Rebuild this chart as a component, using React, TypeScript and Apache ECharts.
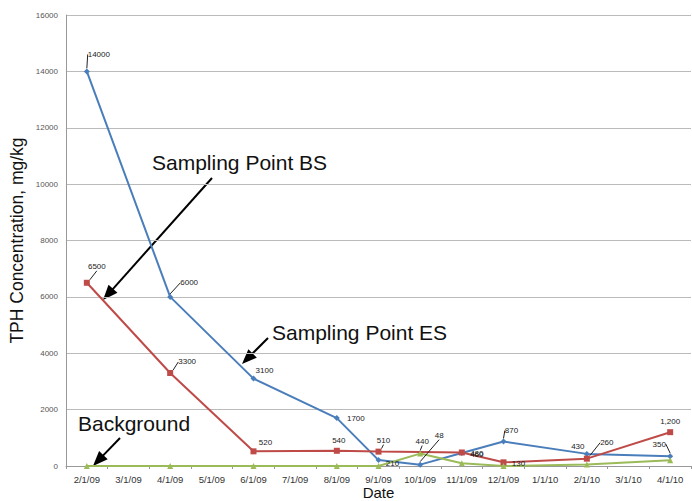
import React, { useEffect, useRef } from "react";
import * as echarts from "echarts";

const categories = ["2/1/09", "3/1/09", "4/1/09", "5/1/09", "6/1/09", "7/1/09", "8/1/09", "9/1/09", "10/1/09", "11/1/09", "12/1/09", "1/1/10", "2/1/10", "3/1/10", "4/1/10"];
const esValues = [14000, null, 6000, null, 3100, null, 1700, 210, 48, 460, 870, null, 430, null, 350];
const bsValues = [6500, null, 3300, null, 520, null, 540, 510, null, 480, 130, null, 260, null, 1200];
const bgValues = [0, null, 0, null, 0, null, 0, 0, 440, 100, 0, null, 50, null, 200];
const esLabels = ["14000", "", "6000", "", "3100", "", "1700", "210", "48", "460", "870", "", "430", "", "350"];
const bsLabels = ["6500", "", "3300", "", "520", "", "540", "510", "", "480", "130", "", "260", "", "1,200"];
const bgLabels = ["", "", "", "", "", "", "", "", "440", "", "", "", "", "", ""];
const yTicks = { min: 0, max: 16000, interval: 2000 };

// label offsets (dx, dy) from the point; third item: draw leader line
const esOffsets: Record<number, [number, number, boolean?]> = { 0: [12, -17, true], 2: [19, -14, true], 4: [11, -8], 6: [19, 0], 7: [14, 3], 8: [19, -29, true], 9: [15, 1], 10: [8, -11, true], 12: [-9, -7], 14: [-11, -12, true] };
const bsOffsets: Record<number, [number, number, boolean?]> = { 0: [10, -16, true], 2: [17, -11, true], 4: [12, -9], 6: [2, -10], 7: [5, -11, true], 9: [15, 1], 10: [15, 1], 12: [20, -16, true], 14: [0, -11] };
const bgOffsets: Record<number, [number, number, boolean?]> = { 8: [2, -12, true] };

function arrow(x1: number, y1: number, x2: number, y2: number) {
  const dx = x2 - x1, dy = y2 - y1;
  const len = Math.sqrt(dx * dx + dy * dy);
  const ux = dx / len, uy = dy / len;
  const nx = -uy, ny = ux;
  const hl = 15, hw = 6;
  const bx = x2 - ux * hl, by = y2 - uy * hl;
  return [
    { type: "line", shape: { x1, y1, x2: bx + ux * 2, y2: by + uy * 2 }, style: { stroke: "#000", lineWidth: 2 } },
    { type: "polygon", shape: { points: [[x2, y2], [bx + nx * hw, by + ny * hw], [bx - nx * hw, by - ny * hw]] }, style: { fill: "#000" } },
  ];
}

export default function App() {
  const ref = useRef<HTMLDivElement>(null);
  useEffect(() => {
    const chart = echarts.init(ref.current!, null, { renderer: "svg" });
    const font = "Liberation Sans, Arial, sans-serif";
    const mkSeries = (name: string, values: any[], labels: string[], offsets: Record<number, [number, number, boolean?]>, color: string, symbol: string, size: number) => ({
      name,
      type: "line",
      data: values.map((v, i) => ({ value: v, labelLine: { show: !!(offsets[i] && offsets[i][2]) } })),
      connectNulls: true,
      symbol,
      symbolSize: size,
      lineStyle: { color, width: 2 },
      itemStyle: { color },
      label: {
        show: true,
        position: "inside",
        fontSize: 8,
        color: "#222",
        fontFamily: font,
        formatter: (p: any) => labels[p.dataIndex] || "",
      },
      labelLine: { show: false, lineStyle: { color: "#222", width: 1 } },
      labelLayout: (p: any) => {
        const o = offsets[p.dataIndex];
        return o ? { dx: o[0], dy: o[1] } : {};
      },
    });
    chart.setOption({
      animation: false,
      backgroundColor: "#fff",
      grid: { left: 66, right: 1, top: 15, bottom: 35, outerBoundsMode: "none", containLabel: false },
      xAxis: {
        type: "category",
        data: categories,
        boundaryGap: true,
        name: "Date",
        nameLocation: "middle",
        nameGap: 19,
        nameMoveOverlap: false,
        nameTextStyle: { fontSize: 15, color: "#111", fontFamily: font },
        axisLine: { lineStyle: { color: "#999" } },
        axisTick: { show: true, length: 3, lineStyle: { color: "#999" } },
        axisLabel: { fontSize: 9.5, color: "#333", fontFamily: font, margin: 8, interval: 0 },
      },
      yAxis: {
        type: "value",
        min: yTicks.min,
        max: yTicks.max,
        interval: yTicks.interval,
        name: "TPH Concentration, mg/kg",
        nameLocation: "middle",
        nameGap: 40,
        nameMoveOverlap: false,
        nameTextStyle: { fontSize: 17.5, color: "#111", fontFamily: font },
        axisLine: { show: true, lineStyle: { color: "#999" } },
        axisTick: { show: false },
        axisLabel: { fontSize: 8, color: "#555", fontFamily: font, margin: 8, formatter: (v: number) => String(v) },
        splitLine: { lineStyle: { color: "#bbb", width: 1 } },
      },
      series: [
        mkSeries("Sampling Point ES", esValues, esLabels, esOffsets, "#4A7EBB", "diamond", 6),
        mkSeries("Sampling Point BS", bsValues, bsLabels, bsOffsets, "#BE4B48", "rect", 6),
        mkSeries("Background", bgValues, bgLabels, bgOffsets, "#9BBB59", "triangle", 6),
      ],
      graphic: [
        { type: "text", left: 152, top: 152, style: { text: "Sampling Point BS", fontSize: 21, fontFamily: font, fill: "#111" } },
        { type: "text", left: 272, top: 322, style: { text: "Sampling Point ES", fontSize: 21, fontFamily: font, fill: "#111" } },
        { type: "text", left: 78, top: 413, style: { text: "Background", fontSize: 21, fontFamily: font, fill: "#111" } },
        ...arrow(212, 178, 103, 300),
        ...arrow(268, 338, 242, 364),
        ...arrow(120, 438, 93, 466),
      ],
    });
    return () => chart.dispose();
  }, []);
  return <div ref={ref} style={{ width: 692, height: 501, position: "absolute", left: 0, top: 0 }} />;
}
